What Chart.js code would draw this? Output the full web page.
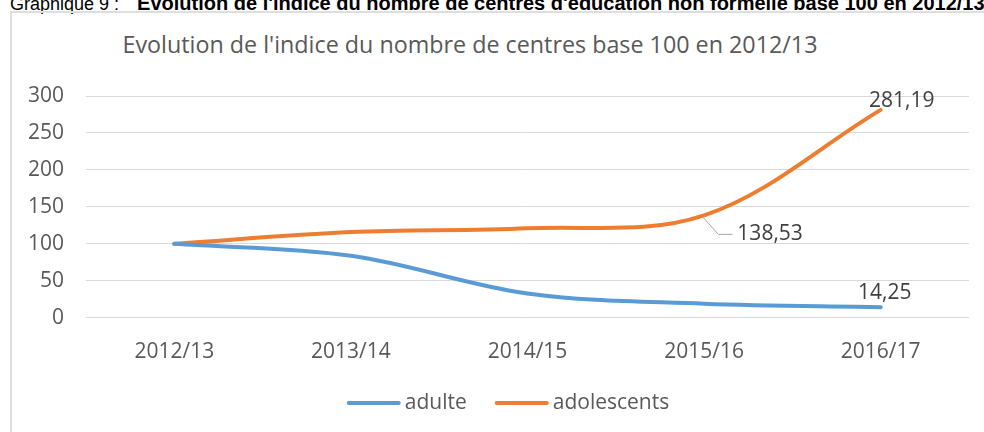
<!DOCTYPE html>
<html>
<head>
<meta charset="utf-8">
<script src="https://cdn.jsdelivr.net/npm/chart.js@4/dist/chart.umd.min.js"></script>
<style>
  html, body { margin: 0; padding: 0; background: #fff; }
  body { width: 984px; height: 432px; position: relative; overflow: hidden; }
  #header { position: absolute; left: 10px; top: -6px; font: 18px/18px "Liberation Sans", Arial, sans-serif; color: #000; white-space: nowrap; }
  #header b { margin-left: 18px; font-size: 20px; }
  #frame { position: absolute; left: 10px; top: 11px; width: 1100px; height: 600px; border: 2px solid #dedede; box-sizing: border-box; }
  #title { position: absolute; left: 0; top: 30px; width: 940px; text-align: center; font: 23.3px/28px "Open Sans", sans-serif; color: #595959; white-space: nowrap; }
  #wrap { position: absolute; left: 0; top: 0; width: 984px; height: 432px; }
</style>
</head>
<body>
<div id="header">Graphique 9 :<b>Evolution de l'indice du nombre de centres d'éducation non formelle base 100 en 2012/13</b></div>
<div id="frame"></div>
<div id="title">Evolution de l'indice du nombre de centres base 100 en 2012/13</div>
<div id="wrap"><canvas id="chart"></canvas></div>
<script>
// DATA //
const years = ['2012/13', '2013/14', '2014/15', '2015/16', '2016/17'];
const adulte = [100, 84, 33, 19, 14.25];
const adolescents = [100, 116, 121, 138.53, 281.19];
const yTicks = [0, 50, 100, 150, 200, 250, 300];

const FONT = '"Open Sans", sans-serif';
const TEXT_COLOR = '#595959';
const fmt = new Intl.NumberFormat('fr-FR', {minimumFractionDigits: 2, maximumFractionDigits: 2});

// labelled points : dataset, index, offset of text centre, optional leader line
const pointLabels = [
  {ds: 1, i: 4, dx: 21, dy: -9},
  {ds: 1, i: 3, dx: 66, dy: 19, leader: true},
  {ds: 0, i: 4, dx: 4, dy: -14}
];

const labelPlugin = {
  id: 'pointLabels',
  afterDatasetsDraw(chart) {
    const ctx = chart.ctx;
    ctx.save();
    ctx.font = '21px ' + FONT;
    ctx.fillStyle = '#404040';
    ctx.textAlign = 'center';
    ctx.textBaseline = 'middle';
    pointLabels.forEach(l => {
      const pt = chart.getDatasetMeta(l.ds).data[l.i];
      const value = chart.data.datasets[l.ds].data[l.i];
      const text = fmt.format(value);
      const tx = pt.x + l.dx, ty = pt.y + l.dy;
      if (l.leader) {
        const w = ctx.measureText(text).width;
        ctx.strokeStyle = '#a6a6a6';
        ctx.lineWidth = 1;
        ctx.beginPath();
        ctx.moveTo(pt.x - 1, pt.y + 2);
        ctx.lineTo(tx - w / 2 - 19, ty);
        ctx.lineTo(tx - w / 2 - 5, ty);
        ctx.stroke();
      }
      ctx.fillText(text, tx, ty);
    });
    ctx.restore();
  }
};

// legend drawn by hand so the line/text spacing matches the original
const legendPlugin = {
  id: 'lineLegend',
  afterDraw(chart) {
    const ctx = chart.ctx;
    const lineW = 54, gapText = 4, gapItem = 28, cy = 403;
    ctx.save();
    ctx.font = '21px ' + FONT;
    ctx.textBaseline = 'middle';
    const items = chart.data.datasets.map(d => ({label: d.label, color: d.borderColor, w: ctx.measureText(d.label).width}));
    const total = items.reduce((s, it) => s + lineW + gapText + it.w, 0) + gapItem * (items.length - 1);
    let x = 508 - total / 2;
    items.forEach(it => {
      ctx.strokeStyle = it.color;
      ctx.lineWidth = 4;
      ctx.lineCap = 'round';
      ctx.beginPath();
      ctx.moveTo(x + 2, cy);
      ctx.lineTo(x + lineW - 2, cy);
      ctx.stroke();
      ctx.fillStyle = TEXT_COLOR;
      ctx.fillText(it.label, x + lineW + gapText, cy);
      x += lineW + gapText + it.w + gapItem;
    });
    ctx.restore();
  }
};

new Chart(document.getElementById('chart'), {
  type: 'line',
  data: {
    labels: years,
    datasets: [
      {label: 'adulte', data: adulte, borderColor: '#5B9BD5', backgroundColor: '#5B9BD5'},
      {label: 'adolescents', data: adolescents, borderColor: '#ED7D31', backgroundColor: '#ED7D31'}
    ]
  },
  options: {
    responsive: true,
    maintainAspectRatio: false,
    animation: false,
    layout: {padding: {top: 96, right: 15, bottom: 45, left: 0}},
    elements: {
      line: {borderWidth: 4, tension: 0.35, borderCapStyle: 'round', borderJoinStyle: 'round'},
      point: {radius: 0, hoverRadius: 0}
    },
    plugins: {
      legend: {display: false},
      title: {display: false},
      tooltip: {enabled: false}
    },
    scales: {
      x: {
        offset: true,
        grid: {display: false, drawTicks: false},
        border: {display: false},
        ticks: {font: {family: FONT, size: 21}, color: TEXT_COLOR, padding: 22, maxRotation: 0}
      },
      y: {
        min: 0,
        max: 300,
        afterFit: (scale) => { scale.width = 86; },
        afterBuildTicks: (scale) => { scale.ticks = yTicks.map(v => ({value: v})); },
        grid: {color: '#d9d9d9', lineWidth: 1, drawTicks: false},
        border: {display: false},
        ticks: {font: {family: FONT, size: 21}, color: TEXT_COLOR, padding: 22}
      }
    }
  },
  plugins: [labelPlugin, legendPlugin]
});
</script>
</body>
</html>
